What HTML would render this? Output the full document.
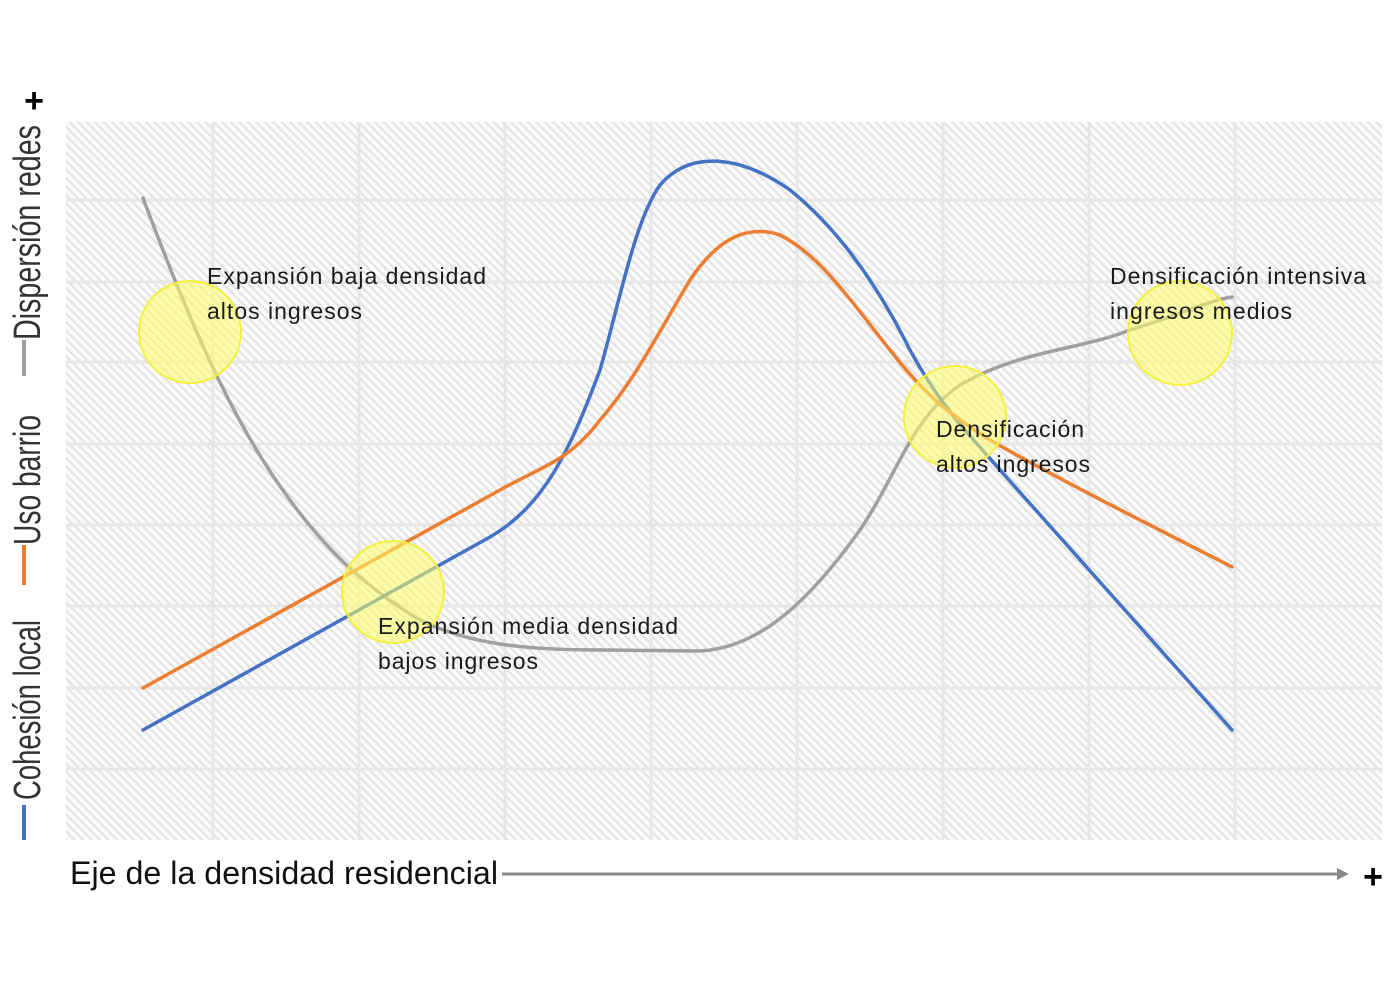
<!DOCTYPE html>
<html><head><meta charset="utf-8"><style>html,body{margin:0;padding:0;background:#fff}svg{display:block}</style></head>
<body>
<svg width="1400" height="1000" viewBox="0 0 1400 1000" xmlns="http://www.w3.org/2000/svg">
<defs>
<pattern id="h" width="6" height="6" patternUnits="userSpaceOnUse" patternTransform="rotate(45)">
<rect width="6" height="6" fill="#fbfbfb"/>
<rect x="0" y="0" width="6" height="2.2" fill="#e3e3e3"/>
</pattern>
</defs>
<rect x="66" y="122" width="1316" height="718" fill="url(#h)"/>
<g stroke="#e6e6e6" stroke-width="3">
<line x1="213" y1="122" x2="213" y2="840"/><line x1="359" y1="122" x2="359" y2="840"/>
<line x1="505" y1="122" x2="505" y2="840"/><line x1="651" y1="122" x2="651" y2="840"/>
<line x1="797" y1="122" x2="797" y2="840"/><line x1="943" y1="122" x2="943" y2="840"/>
<line x1="1089" y1="122" x2="1089" y2="840"/><line x1="1235" y1="122" x2="1235" y2="840"/>
<line x1="66" y1="200" x2="1382" y2="200"/><line x1="66" y1="282" x2="1382" y2="282"/>
<line x1="66" y1="362" x2="1382" y2="362"/><line x1="66" y1="444" x2="1382" y2="444"/>
<line x1="66" y1="525" x2="1382" y2="525"/><line x1="66" y1="606" x2="1382" y2="606"/>
<line x1="66" y1="688" x2="1382" y2="688"/><line x1="66" y1="769" x2="1382" y2="769"/>
</g>
<g fill="none" stroke-width="3.5" stroke-linecap="round" stroke-linejoin="round">
<path stroke="#a0a0a0" d="M143,198 C185,310 230,420 290,500 C330,555 370,590 420,620 C470,645 530,650 600,650 L700,651 C760,648 810,600 860,530 C900,470 910,420 960,385 C1020,350 1080,350 1130,330 C1180,315 1210,300 1232,297"/>
<path stroke="#4472c4" d="M143,730 L490,537 C545,505 570,450 600,370 C620,300 635,220 660,185 C690,150 740,155 790,190 C840,230 880,290 910,350 C940,405 965,430 1000,470 L1232,730"/>
<path stroke="#ed7d31" d="M143,688 L500,490 C545,465 570,460 600,420 C635,380 660,330 690,280 C720,235 750,225 780,235 C820,255 850,300 890,350 C925,395 950,415 990,440 C1060,480 1150,525 1232,567"/>
</g>
<g fill="#ffff66" fill-opacity="0.55" stroke="#f4f03c" stroke-width="2">
<circle cx="190" cy="332" r="51"/><circle cx="393" cy="592" r="51"/>
<circle cx="955" cy="417" r="51"/><circle cx="1180" cy="333" r="52"/>
</g>
<g font-family="Liberation Sans, sans-serif" font-size="23" fill="#1a1a1a">
<text x="207" y="284" textLength="279">Expansión baja densidad</text>
<text x="207" y="319" textLength="155">altos ingresos</text>
<text x="378" y="634" textLength="300">Expansión media densidad</text>
<text x="378" y="669" textLength="160">bajos ingresos</text>
<text x="936" y="437" textLength="148">Densificación</text>
<text x="936" y="472" textLength="154">altos ingresos</text>
<text x="1110" y="284" textLength="256">Densificación intensiva</text>
<text x="1110" y="319" textLength="182">ingresos medios</text>
</g>
<text x="70" y="884" font-family="Liberation Sans Narrow, Liberation Sans, sans-serif" font-size="32" fill="#111" textLength="428" lengthAdjust="spacingAndGlyphs">Eje de la densidad residencial</text>
<line x1="502" y1="874" x2="1340" y2="874" stroke="#888" stroke-width="3"/>
<polygon points="1337,868 1349,874 1337,880" fill="#888"/>
<text x="1373" y="888" font-family="Liberation Sans, sans-serif" font-size="34" font-weight="bold" text-anchor="middle" fill="#000">+</text>
<text x="34" y="112" font-family="Liberation Sans, sans-serif" font-size="34" font-weight="bold" text-anchor="middle" fill="#000">+</text>
<g font-family="Liberation Sans Narrow, Liberation Sans, sans-serif" font-size="38" fill="#333">
<line x1="24" y1="805" x2="24" y2="840" stroke="#4472c4" stroke-width="4"/>
<text transform="translate(40,800) rotate(-90)" textLength="180" lengthAdjust="spacingAndGlyphs">Cohesión local</text>
<line x1="24" y1="545" x2="24" y2="585" stroke="#ed7d31" stroke-width="4"/>
<text transform="translate(40,545) rotate(-90)" textLength="130" lengthAdjust="spacingAndGlyphs">Uso barrio</text>
<line x1="24" y1="340" x2="24" y2="376" stroke="#a0a0a0" stroke-width="4"/>
<text transform="translate(40,340) rotate(-90)" textLength="215" lengthAdjust="spacingAndGlyphs">Dispersión redes</text>
</g>
</svg>
</body></html>
